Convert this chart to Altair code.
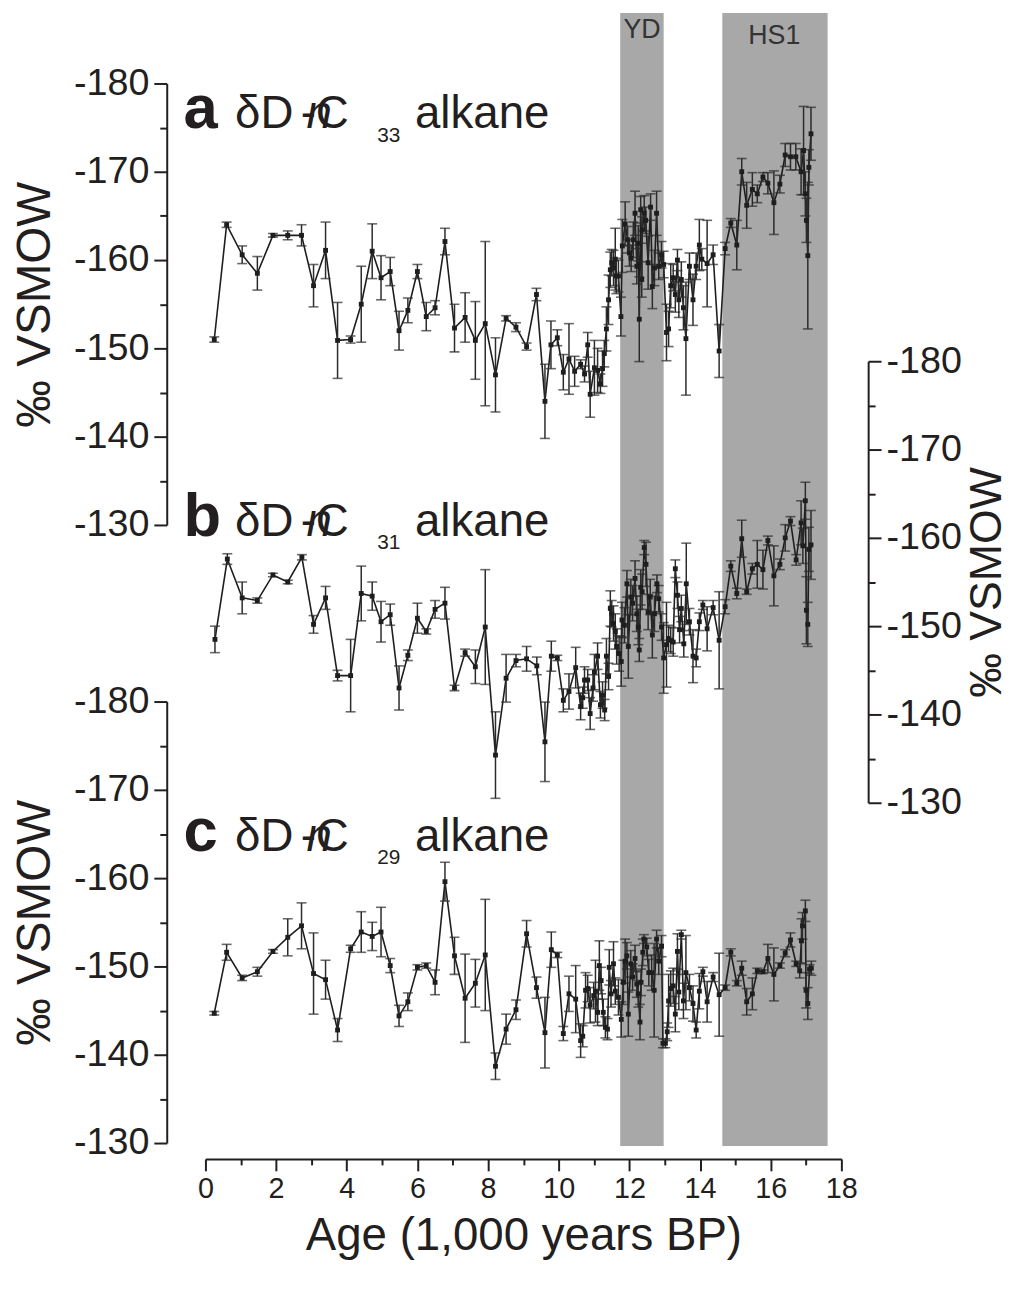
import altair as alt
import pandas as pd

# ---------------- data ----------------
# panel a : dD n-C33 alkane (left axis, top)
a_age = [0.25, 0.60, 1.04, 1.47, 1.91, 2.33, 2.72, 3.06, 3.40, 3.74, 4.11, 4.41, 4.72, 4.97, 5.23, 5.48,
         5.73, 6.00, 6.25, 6.50, 6.78, 7.05, 7.35, 7.64, 7.92, 8.21, 8.51, 8.79, 9.09, 9.37, 9.61, 9.78,
         9.96, 10.13, 10.29, 10.45, 10.62, 10.73, 10.82, 10.89, 11.01, 11.10, 11.18, 11.24, 11.29, 11.35,
         11.41, 11.46, 11.50, 11.55, 11.60, 11.63, 11.69, 11.76, 11.80, 11.88, 11.95, 12.00, 12.05, 12.11,
         12.16, 12.21, 12.25, 12.28, 12.32, 12.35, 12.36, 12.42, 12.46, 12.53, 12.60, 12.65, 12.71, 12.77,
         12.83, 12.91, 12.97, 13.05, 13.11, 13.17, 13.24, 13.30, 13.36, 13.40, 13.47, 13.53, 13.60, 13.70,
         13.80, 13.89, 13.98, 14.05, 14.20, 14.37, 14.54, 14.71, 14.87, 15.04, 15.18, 15.32, 15.48, 15.62,
         15.78, 15.92, 16.09, 16.26, 16.41, 16.56, 16.71, 16.86, 16.93, 16.98, 17.01, 17.05, 17.08, 17.14]
a_val = [-151.0, -164.0, -160.6, -158.5, -162.8, -162.8, -162.8, -157.1, -161.1, -150.9, -151.0, -155.0,
         -161.0, -158.0, -158.7, -152.0, -154.3, -158.7, -153.6, -154.6, -162.1, -152.3, -153.5, -150.9,
         -152.8, -147.0, -153.4, -152.4, -150.2, -156.1, -144.0, -150.4, -151.2, -147.3, -148.8, -147.4,
         -148.2, -147.1, -150.4, -144.8, -147.8, -147.5, -146.0, -147.7, -149.4, -152.2, -155.5, -158.9,
         -159.7, -159.1, -160.1, -158.2, -158.2, -153.6, -161.6, -164.1, -162.3, -160.8, -160.2, -162.3,
         -165.3, -159.3, -161.9, -153.3, -165.7, -157.8, -163.4, -165.3, -164.5, -159.7, -166.0, -157.0,
         -159.1, -165.3, -159.3, -160.6, -159.5, -151.8, -152.2, -157.1, -158.0, -156.1, -160.0, -155.5,
         -157.8, -154.6, -151.1, -159.3, -155.5, -159.3, -161.7, -160.1, -159.6, -160.6, -149.7, -161.3,
         -164.2, -161.7, -170.0, -166.2, -168.0, -167.5, -169.4, -168.7, -166.5, -168.6, -171.9, -171.7,
         -171.7, -170.0, -172.4, -167.5, -164.5, -160.5, -170.5, -174.3]
a_err = [0.3, 0.3, 1.0, 1.9, 0.2, 0.5, 1.2, 2.4, 3.2, 4.3, 0.4, 4.3, 3.1, 2.5, 1.6, 2.2, 1.4, 0.8, 1.6, 0.8,
         1.5, 2.7, 2.8, 4.4, 9.3, 4.2, 0.3, 0.5, 0.4, 0.7, 4.2, 2.7, 0.9, 2.0, 4.0, 1.7, 0.5, 0.9, 1.4, 2.6,
         3.1, 2.5, 1.1, 2.0, 1.5, 2.5, 2.8, 2.0, 1.5, 2.0, 3.5, 2.0, 1.8, 2.2, 3.0, 2.5, 1.5, 1.5, 1.5, 2.0,
         2.5, 2.0, 2.0, 4.8, 1.5, 2.0, 1.5, 2.0, 1.5, 3.0, 1.5, 2.5, 2.0, 2.5, 1.5, 1.5, 1.5, 3.2, 2.0, 2.5,
         1.5, 2.0, 1.2, 2.0, 2.0, 2.5, 6.4, 1.5, 2.9, 1.5, 2.9, 1.2, 4.9, 1.1, 3.0, 0.7, 0.5, 2.8, 1.5, 2.6,
         1.9, 1.0, 0.5, 1.2, 3.6, 1.0, 1.3, 1.5, 1.5, 2.6, 5.0, 2.5, 2.5, 8.3, 2.0, 3.0]

# panel b : dD n-C31 alkane (right axis, middle)
b_age = [0.27, 0.62, 1.04, 1.47, 1.91, 2.33, 2.73, 3.06, 3.40, 3.74, 4.11, 4.41, 4.72, 4.97, 5.23, 5.48,
         5.73, 6.00, 6.25, 6.50, 6.78, 7.05, 7.35, 7.64, 7.92, 8.21, 8.51, 8.79, 9.09, 9.38, 9.61, 9.79,
         9.96, 10.13, 10.29, 10.48, 10.62, 10.68, 10.73, 10.82, 10.89, 10.97, 11.01, 11.10, 11.18, 11.24,
         11.30, 11.35, 11.41, 11.46, 11.50, 11.55, 11.60, 11.64, 11.71, 11.77, 11.79, 11.86, 11.93, 11.97,
         12.04, 12.09, 12.16, 12.21, 12.25, 12.28, 12.32, 12.36, 12.42, 12.47, 12.53, 12.59, 12.65, 12.71,
         12.78, 12.83, 12.91, 12.97, 13.05, 13.11, 13.17, 13.24, 13.30, 13.36, 13.42, 13.47, 13.54, 13.61,
         13.70, 13.80, 13.89, 13.98, 14.08, 14.20, 14.37, 14.54, 14.71, 14.87, 15.04, 15.18, 15.32, 15.48,
         15.62, 15.78, 15.92, 16.09, 16.26, 16.41, 16.56, 16.72, 16.86, 16.91, 16.98, 17.01, 17.05, 17.08,
         17.14]
b_val = [-148.5, -157.6, -153.2, -152.9, -155.8, -155.0, -157.8, -150.2, -153.2, -144.4, -144.4, -153.7,
         -153.4, -150.5, -151.3, -143.0, -146.7, -150.9, -149.4, -151.9, -152.6, -143.0, -147.0, -145.4,
         -149.9, -135.4, -144.1, -146.1, -146.3, -145.5, -136.9, -146.6, -146.4, -141.6, -142.6, -145.3,
         -140.9, -141.9, -143.9, -143.9, -140.1, -143.0, -144.8, -146.6, -141.1, -142.2, -140.5, -146.6,
         -144.3, -152.0, -151.4, -150.3, -149.4, -147.7, -146.9, -146.0, -150.7, -150.1, -154.8, -147.7,
         -153.3, -152.6, -155.4, -151.4, -149.9, -147.3, -154.4, -153.9, -158.9, -157.0, -151.6, -153.3,
         -149.0, -151.4, -154.8, -153.1, -149.9, -146.4, -147.9, -148.6, -148.4, -148.2, -156.5, -153.5,
         -149.6, -152.0, -148.0, -154.8, -150.5, -146.6, -146.4, -150.5, -152.4, -149.7, -152.1, -148.4,
         -152.2, -156.8, -153.7, -159.9, -153.9, -156.5, -157.0, -156.4, -159.7, -155.7, -157.0, -160.0,
         -161.9, -157.5, -161.7, -159.1, -164.2, -151.8, -150.2, -158.7, -159.2]
b_err = [1.5, 0.6, 1.8, 0.3, 0.2, 0.2, 0.3, 1.0, 1.3, 0.6, 4.1, 3.1, 1.6, 2.3, 1.2, 2.5, 0.6, 1.7, 0.3, 1.0,
         1.8, 0.3, 0.4, 1.9, 6.5, 4.9, 2.7, 0.7, 1.4, 1.0, 4.5, 1.7, 0.3, 1.3, 2.0, 2.3, 1.5, 1.2, 1.5, 1.2,
         1.8, 1.5, 2.0, 1.5, 1.5, 1.5, 1.2, 2.0, 1.5, 2.0, 1.5, 2.0, 2.0, 2.0, 2.0, 2.8, 2.0, 2.0, 1.5, 3.6,
         2.0, 2.0, 2.0, 2.0, 2.0, 1.3, 2.0, 2.0, 0.8, 2.5, 2.0, 2.0, 2.6, 2.0, 1.0, 1.5, 1.5, 4.0, 4.8, 1.5,
         1.5, 1.6, 1.0, 1.5, 1.5, 1.5, 1.5, 4.6, 1.5, 3.0, 1.0, 1.0, 0.5, 2.5, 0.8, 5.5, 0.8, 0.6, 0.6, 2.1,
         0.3, 0.6, 2.7, 2.2, 0.5, 3.4, 0.6, 1.5, 0.5, 0.6, 2.5, 2.0, 2.1, 3.8, 2.5, 2.5, 3.9]

# panel c : dD n-C29 alkane (left axis, bottom)
c_age = [0.25, 0.60, 1.04, 1.47, 1.91, 2.33, 2.72, 3.06, 3.40, 3.74, 4.11, 4.41, 4.72, 4.97, 5.23, 5.48,
         5.73, 6.00, 6.25, 6.50, 6.78, 7.05, 7.35, 7.64, 7.92, 8.21, 8.51, 8.79, 9.09, 9.37, 9.61, 9.79,
         9.96, 10.13, 10.29, 10.48, 10.62, 10.68, 10.76, 10.82, 10.89, 10.99, 11.04, 11.10, 11.15, 11.20,
         11.26, 11.32, 11.38, 11.43, 11.48, 11.55, 11.60, 11.69, 11.77, 11.83, 11.88, 11.93, 11.97, 12.04,
         12.09, 12.16, 12.21, 12.25, 12.30, 12.33, 12.38, 12.41, 12.49, 12.55, 12.63, 12.70, 12.77, 12.83,
         12.91, 12.95, 13.02, 13.07, 13.11, 13.17, 13.24, 13.30, 13.36, 13.40, 13.47, 13.53, 13.60, 13.70,
         13.80, 13.89, 13.98, 14.08, 14.20, 14.37, 14.54, 14.71, 14.87, 15.04, 15.18, 15.32, 15.48, 15.62,
         15.78, 15.92, 16.09, 16.26, 16.41, 16.56, 16.72, 16.82, 16.87, 16.90, 16.98, 17.00, 17.05, 17.10,
         17.15]
c_val = [-144.7, -151.6, -148.7, -149.4, -151.7, -153.3, -154.6, -149.2, -148.5, -142.8, -152.0, -153.9,
         -153.4, -153.9, -150.1, -144.4, -146.0, -149.9, -150.1, -148.2, -159.6, -151.2, -146.4, -148.1,
         -151.3, -138.7, -142.9, -145.1, -153.7, -147.6, -142.5, -151.9, -151.3, -142.4, -146.9, -146.3,
         -141.6, -142.1, -147.3, -147.5, -145.6, -146.7, -147.2, -144.8, -150.1, -148.4, -144.8, -143.1,
         -142.9, -149.9, -146.9, -150.3, -147.2, -146.5, -144.0, -148.2, -150.6, -151.2, -144.6, -150.3,
         -148.8, -150.9, -148.0, -146.9, -143.7, -148.2, -151.6, -153.1, -152.2, -149.3, -149.3, -147.3,
         -153.1, -150.6, -152.3, -141.3, -141.3, -142.6, -146.1, -147.5, -147.8, -144.6, -151.7, -147.1,
         -153.6, -146.1, -149.3, -147.6, -145.8, -142.8, -147.2, -149.4, -146.0, -148.8, -146.8, -147.6,
         -151.6, -148.1, -149.8, -146.0, -146.9, -149.5, -149.4, -150.9, -149.1, -150.1, -151.5, -153.0,
         -150.3, -149.5, -152.9, -154.6, -156.3, -147.3, -145.8, -149.7, -149.8]
c_err = [0.2, 0.9, 0.3, 0.5, 0.2, 2.1, 2.6, 4.6, 2.2, 1.3, 0.4, 2.3, 1.6, 2.8, 0.8, 1.2, 1.0, 0.3, 0.3, 1.4,
         2.2, 2.1, 5.0, 2.7, 6.3, 1.5, 1.7, 1.1, 1.5, 1.2, 4.0, 2.0, 0.3, 0.8, 2.0, 3.8, 1.9, 1.2, 2.0, 1.5,
         2.0, 1.5, 3.5, 1.5, 2.8, 1.5, 1.5, 1.2, 1.2, 2.0, 1.5, 2.5, 1.5, 2.0, 2.0, 2.5, 2.5, 1.5, 2.5, 1.5,
         1.5, 1.5, 1.5, 1.5, 2.0, 1.5, 1.5, 0.5, 1.0, 1.5, 2.0, 5.3, 1.0, 1.5, 1.2, 0.5, 0.5, 1.0, 3.0, 2.0,
         2.0, 2.0, 2.0, 2.0, 0.5, 2.0, 4.2, 1.5, 2.0, 0.9, 2.0, 0.5, 2.3, 0.5, 4.7, 0.3, 0.4, 0.3, 0.8, 1.5,
         1.8, 0.3, 0.2, 1.6, 3.0, 0.3, 0.4, 0.8, 0.3, 0.8, 2.5, 1.5, 1.2, 2.0, 1.8, 0.5, 0.8]

# shaded intervals
band_name = ["YD", "HS1"]
band_start = [11.74, 14.63]
band_end = [12.97, 17.61]
band_label_age = [12.36, 16.10]
band_label_val = [-185.2, -184.5]   # on panel a's scale

# panel captions (positions in data units of each panel)
panel_letter = ["a", "b", "c"]
panel_sub = ["33", "31", "29"]
cap_main_val = [-174.9, -160.2, -163.1]
cap_sub_val = [-173.4, -158.7, -161.6]
cap_age = {"letter": -0.62, "dD": 0.84, "hyphen": 2.70, "n": 2.86, "C": 3.12, "sub": 4.86, "alkane": 5.93}

x_ticks = list(range(0, 19))
y_ticks = list(range(-180, -129, 5))

# ---------------- styling ----------------
FONT = "Liberation Sans"
INK = "#231f20"
W, H = 641, 1142

x_scale = alt.Scale(domain=[0, 18], nice=False, zero=False)
x_axis = alt.Axis(
    orient="bottom", offset=13, values=x_ticks,
    labelExpr="datum.value % 2 == 0 ? datum.label : ''",
    tickSize={"condition": {"test": "datum.value % 2 != 0", "value": 6}, "value": 12},
    labelFontSize=29, titleFontSize=46, labelPadding=4, titlePadding=10,
    title="Age (1,000 years BP)", labelFlush=False, labelOverlap=False, grid=False,
)


def y_axis(orient, offset):
    left = orient == "left"
    return alt.Axis(
        orient=orient, offset=offset, values=y_ticks,
        labelExpr="datum.value % 10 == 0 ? '-' + abs(datum.value) : ''",
        tickSize={"condition": {"test": "datum.value % 10 != 0", "value": 7}, "value": 13},
        labelFontSize=38, titleFontSize=48 if left else 45, labelPadding=5,
        titlePadding=14 if left else 3, titleAngle=270,
        titleBaseline="bottom" if left else "top",
        title="‰ VSMOW", labelFlush=False, labelOverlap=False, grid=False,
    )


def panel(ages, vals, errs, yrange, orient, offset, idx, extra=None):
    df = pd.DataFrame({"age": ages, "v": vals,
                       "lo": [v - e for v, e in zip(vals, errs)],
                       "hi": [v + e for v, e in zip(vals, errs)]})
    ys = alt.Scale(domain=[-180, -130], range=yrange, nice=False, zero=False)
    ya = y_axis(orient, offset)
    X = alt.X("age:Q", scale=x_scale, axis=x_axis)
    base = alt.Chart(df)
    rule = base.mark_rule(color="#2b2b2b", strokeWidth=1.5).encode(
        x=X, y=alt.Y("lo:Q", scale=ys, axis=ya), y2="hi:Q")
    cap_lo = base.mark_tick(orient="horizontal", size=10, thickness=1.6, color="#2b2b2b").encode(
        x=X, y=alt.Y("lo:Q", scale=ys, axis=ya))
    cap_hi = base.mark_tick(orient="horizontal", size=10, thickness=1.6, color="#2b2b2b").encode(
        x=X, y=alt.Y("hi:Q", scale=ys, axis=ya))
    line = base.mark_line(color="#1e1e1e", strokeWidth=1.6).encode(
        x=X, y=alt.Y("v:Q", scale=ys, axis=ya))
    pts = base.mark_point(shape="square", filled=True, size=24, color="#1e1e1e", opacity=1).encode(
        x=X, y=alt.Y("v:Q", scale=ys, axis=ya))

    def txt(text, age, val, size, weight="normal", style="normal"):
        d = pd.DataFrame({"age": [age], "v": [val], "t": [text]})
        return alt.Chart(d).mark_text(
            align="left", baseline="alphabetic", font=FONT, fontSize=size,
            fontWeight=weight, fontStyle=style, color=INK
        ).encode(x=X, y=alt.Y("v:Q", scale=ys, axis=ya), text="t:N")

    mv, sv = cap_main_val[idx], cap_sub_val[idx]
    texts = [
        txt(panel_letter[idx], cap_age["letter"], mv, 62, weight="bold"),
        txt("δD", cap_age["dD"], mv, 46),
        txt("n", cap_age["n"], mv, 46, style="italic"),
        txt("-", cap_age["hyphen"], mv, 46),
        txt("C", cap_age["C"], mv, 46),
        txt(panel_sub[idx], cap_age["sub"], sv, 21),
        txt("alkane", cap_age["alkane"], mv, 46),
    ]
    layers = [line, rule, cap_lo, cap_hi, pts] + texts
    if extra is not None:
        bl = pd.DataFrame({"age": band_label_age, "v": band_label_val, "t": band_name})
        layers.append(alt.Chart(bl).mark_text(
            align="center", baseline="alphabetic", font=FONT, fontSize=27, color="#333333"
        ).encode(x=X, y=alt.Y("v:Q", scale=ys, axis=ya), text="t:N"))
    return alt.layer(*layers)


bands_df = pd.DataFrame({"name": band_name, "s": band_start, "e": band_end})
bands = alt.Chart(bands_df).mark_rect(color="#a8a8a8").encode(
    x=alt.X("s:Q", scale=x_scale, axis=x_axis), x2="e:Q")

pa = panel(a_age, a_val, a_err, [71, 516], "left", 39, 0, extra=True)
pb = panel(b_age, b_val, b_err, [351, 796], "right", 27, 1)
pc = panel(c_age, c_val, c_err, [694, 1139], "left", 39, 2)

chart = alt.layer(bands, pa, pb, pc).resolve_scale(y="independent").resolve_axis(y="independent").properties(
    width=W, height=H,
    padding={"left": 199, "top": 0, "right": 174, "bottom": 132},
    autosize=alt.AutoSizeParams(type="none"),
).configure_view(strokeWidth=0).configure_axis(
    labelFont=FONT, titleFont=FONT, labelColor=INK, titleColor=INK,
    domainColor=INK, tickColor=INK, domainWidth=2, tickWidth=2,
    titleFontWeight="normal",
)

chart.save("out.html", embed_options={"renderer": "svg", "actions": False})
